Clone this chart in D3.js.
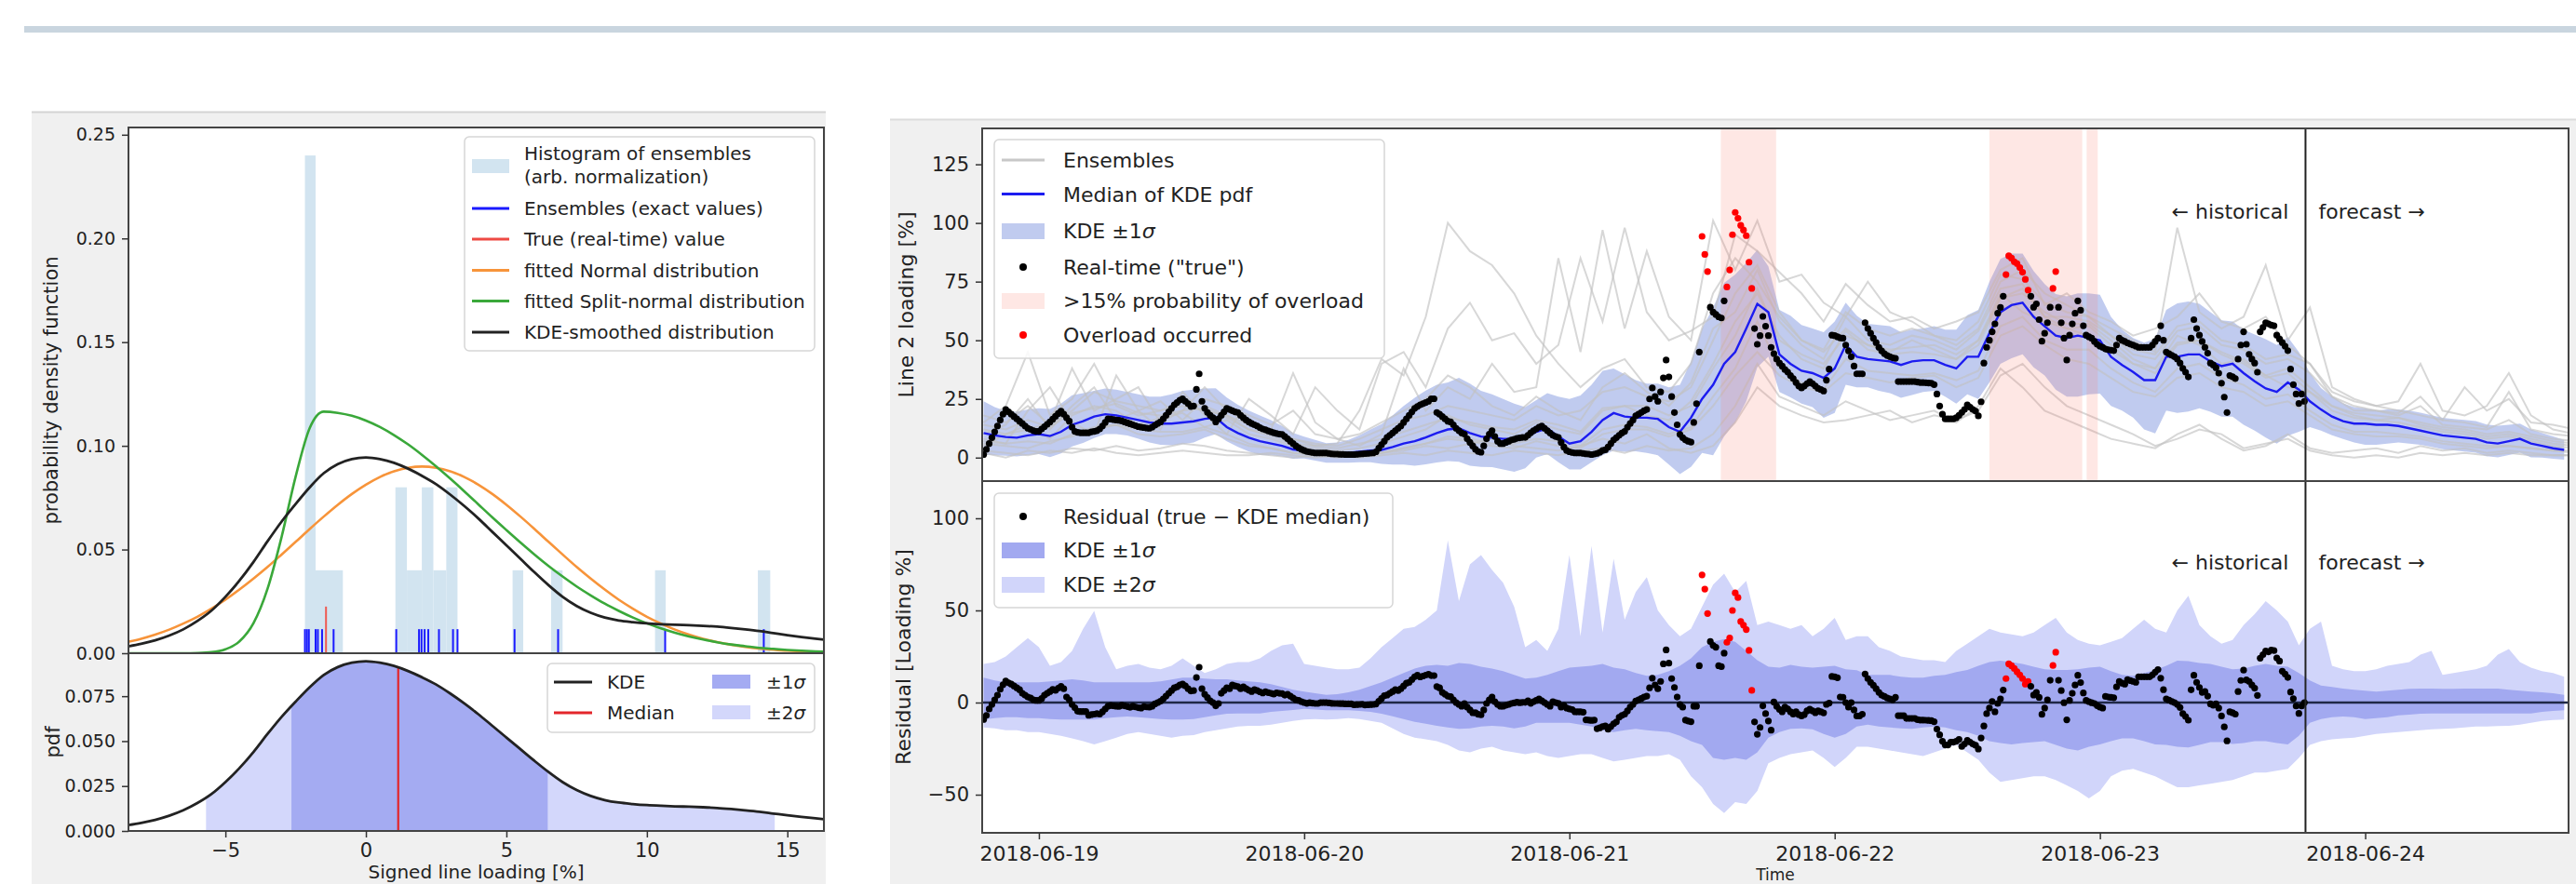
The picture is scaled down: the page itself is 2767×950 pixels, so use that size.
<!DOCTYPE html>
<html>
<head>
<meta charset="utf-8">
<script src="https://cdn.jsdelivr.net/npm/d3@7"></script>
<style>
  body { margin: 0; background: #fff; }
  svg { display: block; }
  text { font-family: "DejaVu Sans", sans-serif; fill: #222; }
</style>
</head>
<body>
<svg id="chart" width="2767" height="950"></svg>
<script>
// ---------- left figure: distribution of one time step ----------
const pdfX = [-8.5,-8,-7.5,-7,-6.5,-6,-5.5,-5,-4.5,-4,-3.5,-3,-2.5,-2,-1.5,-1,-0.5,0,0.5,1,1.5,2,2.5,3,3.5,4,4.5,5,5.5,6,6.5,7,7.5,8,8.5,9,9.5,10,10.5,11,11.5,12,12.5,13,13.5,14,14.5,15,15.5,16,16.5];
const normalPdf = [0.0054,0.0070,0.0090,0.0114,0.0143,0.0176,0.0215,0.0258,0.0307,0.0360,0.0416,0.0476,0.0537,0.0599,0.0659,0.0716,0.0768,0.0813,0.0850,0.0877,0.0894,0.0900,0.0894,0.0877,0.0850,0.0813,0.0768,0.0716,0.0659,0.0599,0.0537,0.0476,0.0416,0.0360,0.0307,0.0258,0.0215,0.0176,0.0143,0.0114,0.0090,0.0070,0.0054,0.0041,0.0031,0.0023,0.0017,0.0012,0.0009,0.0006,0.0004];
const splitPdf = [0,0,0,0,0,0.0001,0.0005,0.0019,0.0057,0.0145,0.0311,0.0561,0.0852,0.1086,0.1165,0.1159,0.1145,0.1122,0.1091,0.1052,0.1007,0.0956,0.0901,0.0842,0.0781,0.0718,0.0655,0.0594,0.0534,0.0476,0.0421,0.0370,0.0322,0.0279,0.0239,0.0204,0.0172,0.0144,0.0120,0.0099,0.0081,0.0066,0.0053,0.0042,0.0034,0.0026,0.0021,0.0016,0.0012,0.0009,0.0007];
const kdePdf = [0.0032,0.0045,0.0062,0.0085,0.0115,0.0155,0.0205,0.0272,0.0350,0.0440,0.0540,0.0635,0.0720,0.0800,0.0868,0.0912,0.0936,0.0944,0.0936,0.0918,0.0890,0.0855,0.0815,0.0765,0.0710,0.0650,0.0585,0.0520,0.0455,0.0390,0.0328,0.0272,0.0228,0.0195,0.0172,0.0158,0.0150,0.0144,0.0140,0.0137,0.0135,0.0132,0.0128,0.0122,0.0115,0.0107,0.0097,0.0087,0.0078,0.0070,0.0063];
const histLo  = [-2.17,-1.79,1.05,1.46,1.99,2.40,2.86,5.22,6.59,10.29,13.95];
const histHi  = [-1.79,-0.82,1.46,1.99,2.40,2.86,3.26,5.60,7.00,10.67,14.39];
const histVal = [0.24,0.04,0.08,0.04,0.08,0.04,0.08,0.04,0.04,0.04,0.04];
const ensembleValues = [-2.17,-2.10,-2.03,-1.79,-1.71,-1.56,-1.15,1.08,1.89,1.98,2.09,2.22,2.60,3.10,3.26,5.29,6.84,10.65,14.16];
const trueValue = -1.42;
const kdeMedianValue = 1.15;
const sigma1 = [-2.65, 6.47];
const sigma2 = [-5.69, 14.55];

// ---------- right figure: time series (hours from 2018-06-18 19:00 UTC) ----------
const seriesStart = Date.UTC(2018, 5, 18, 19, 0);
const axisStart = "2018-06-18 18:52", axisEnd = "2018-06-24 18:24";
const forecastStart = "2018-06-23 18:36";
const overloadSpans = [["2018-06-21 13:42","2018-06-21 18:42"],["2018-06-22 14:00","2018-06-22 22:24"],["2018-06-22 22:48","2018-06-22 23:48"]];
const overloadLimit = 70;

// real-time loading, every 15 minutes
const trueLoad = [
1.3,3.5,6,8.5, 11,13.5,16,18.5, 20.5,19.5,18.5,17.5, 16.5,15.5,14.5,13.5, 12.5,12,11.5,11.2,
11.2,12.2,13.2,14.2, 15.2,16.4,17.6,18.8, 19.8,18.5,17,15.5, 13,11.2,10.8,10.6, 10.6,10.6,10.6,11, 11.2,11.5,12.2,13.5,
15,16.5,16.4,16.2, 16,15.9,15.6,15.2, 14.8,14.4,14,13.6, 13.2,13,12.8,12.6, 12.5,13,13.8,14.5, 15.2,16.5,18,19.5,
21,22.5,23.5,24.5, 25.1,24,23,21.8, 22,29.1,35.7,24, 21,19.2,18,17, 15.2,16.5,18,19.5, 21,20.5,20,19.5,
19.2,18,17,16, 15.2,14.5,14,13.5, 12.8,12.2,11.9,11.4, 11,10.6,10.3,10, 9.9,9,8,7, 6,5,4.2,3.5,
3,2.6,2.4,2.2, 2,2,2,2, 2,1.8,1.6,1.5, 1.5,1.4,1.4,1.3, 1.3,1.3,1.3,1.4, 1.5,1.6,1.7,1.8,
1.9,2,2.5,4, 5.5,7,8.6,9.5, 10.5,11.5,12.5,13.5, 15,16.5,18,19.5, 21,21.8,22.5,23, 23.5,24,25.1,25.1,
19.2,18.5,17.5,16.5, 15.5,15.2,14,12.5, 11.5,10.5,10,8, 6.5,5,3.5,2.6, 2.3,5,8,10, 11.5,9,7,6,
6,6.5,7,7.5, 7.8,8.2,8.4,8.6, 8.6,9.5,10.6,11.5, 12.2,13,13.5,12.5, 11.5,10.5,9.5,9, 8.6,6.5,4.5,3,
2.5,2.2,2,2, 2,1.8,1.6,1.5, 1.3,1.5,1.8,2.3, 3,3.3,4.5,6, 7.5,8.5,9.5,10.5, 11.2,13,14.5,16,
17.8,18.5,19.2,20, 20.5,25,29.7,26, 24,28,34,41.6, 34.4,26,19.2,14, 9.9,8.5,7.5,7, 6.6,15,23,45,
94.3,86.6,79.3,64.1, 62,61,60,59.5, 66.8,72.7,80,95, 104.5,102,99,97, 94.6,83.3,72.1,55, 48.3,52,60.2,56,
52,47,44.3,42, 40.3,39,37.5,36.5, 35,33.7,32,30.5, 29.7,30.5,31.5,32.4, 31.5,30.5,29.5,29, 28.4,33,37.7,52.2,
52,51.5,51,50.9, 48,45.5,43,39, 35.7,35.7,35.7,57.5, 55,53,50.9,49, 47,45.5,44.3,43.5, 43,42.5,42.3,32.4,
32.4,32.4,32.4,32.4, 32.4,32.4,32.2,32, 32,31.9,31.8,31.7, 31.1,27.1,22,18.5, 16.5,16.5,16.5,16.5, 17,18,19.2,20.5,
22.5,21.5,20.5,19.8, 17.8,23.8,40.3,47, 50,53.6,57,61.5, 64,68.8,78,86, 85,83.5,82.7,81, 79,76,71.4,68.8,
64.1,65.5,58.8,49.6, 53,57.5,64.1,72.1, 79.3,64.1,57.5,50.9, 41.6,52.2,57,61.5, 66.8,62.8,56.2,52.2, 51.5,50.9,49.5,48.3,
47.5,47,46.3,46, 45.8,45.6,48,50.9, 50,49.5,48.9,48.4, 48,47.5,47,47, 47,47,47,48, 49.5,50.9,56.2,50,
45,44.3,43.6,43, 42,40.3,38,36.4, 34.4,50.9,58.8,55, 52.2,49.5,47,44.5, 40.3,39.5,38.3,36, 31.7,25.8,19.2,35,
34.5,33.7,42,48, 53.6,48.3,44,42, 40.3,36.4,53.6,55.5, 57.5,57,56.5,56.2, 52.2,50.5,49,47.5, 45.6,37.7,31.1,27.1,
23.1,27.1,24];

// median of the KDE pdf, hourly
const kdeMedian = [10.5,9.5,8.8,8.5,9.5,
10,9.2,11,14,15.5,17.5,18.5,18,17,16, 15,14.5,14.5,15,15.5,16.5,17,13,10.5,8.5,
7,6,5,3.5,3,2.5,2,2,2,2.5, 3,3.3,4.5,6,7,8.6,10.5,12,12.5,10.5,
9,8.5,8,8,8.5,11,12.5,9,6,7, 11,16,19,17.5,17,17,16.5,13,11,17,
25,31,40,45,55,65.5,62,44,40,37, 36,34,38,48,43,42,41.5,41,39.5,41,
41.5,41.5,39.5,38,43,43,53,62,65,66, 60,56,52,51,52,51,50,43,39.5,36.5,
33,33,43,43,44,44,41,39,40,36, 32.5,29.5,28,32,29,24,20.5,17.5,15.5,14.5,
14.5,14,14,13.5,12.5,11.5,10.5,9.5,9,8.5, 8,6.5,6,7,8,6,5,4,3.3];

// KDE spread around the median, hourly
const sig1Hi = [13.5,12,11,11,11,
11,11.5,12,12.6,12,11,11,11,11,11, 11,11.5,12.5,13.5,13.5,13,12.6,12.6,12,11.5,
11,10,8.5,7,5.9,5,4.2,4.5,5.5,7, 9,11,13.5,16,18.5,20,20.5,20,21.5,21,
19.5,18.5,17,15,13,13.5,15,17,19,19.5, 20,21,19,18,16,14.5,15,17,20,24,
30,33,34.5,33,28,23,19.5,19,20.5,19.5, 19,19.5,20,18,17.5,15,15,15,14,13.5,
13.5,14.5,15,16.5,17.7,20,22,22.7,22,21, 19.5,18,17.7,17.7,18,19,19.4,17,15,14.5,
16,17.7,20,22.7,22.5,21.5,21,19.5,18,18.5, 20,21,20,19.4,16,12,9.2,8.5,7.6,7,
6.5,6,6.5,7,7.5,7.6,7.6,7.5,7.5,7.6, 7.6,7.6,7.6,7,6.5,6,5.5,5,4.2];
const sig1Lo = [-9.2,-8.5,-8,-8,-8.4,
-8.5,-9,-9.2,-9.2,-9.2,-9.2,-8.5,-8,-7.6,-8, -8.5,-9,-9.2,-9.2,-9,-8,-7,-6,-5.9,-5.9,
-5.9,-5,-4.5,-4,-3.4,-3.8,-4.2,-4.2,-4.2,-4.5, -5,-6,-7.5,-9,-10.5,-11.5,-12.6,-13.5,-14.3,-14,
-13,-12.6,-13,-14,-13,-11,-11,-11,-11,-12, -13,-15,-16,-15,-14.3,-15,-15.5,-16,-18,-21,
-23,-30,-31,-30,-31,-27,-19,-16,-14.3,-14, -14.5,-17,-19,-17,-13,-12,-13,-13.5,-14,-14.3,
-13.5,-13,-13.5,-15,-16,-18,-21,-22,-22.7,-22, -21.5,-21,-23,-25,-26,-24,-22.7,-21,-19.5,-19.4,
-21,-22.7,-23,-24,-24.4,-23,-21.5,-21.5,-22.5,-22, -21,-21,-22,-22.7,-18,-11,-9,-8,-7.6,-8,
-9,-8.5,-8,-7,-6.5,-6,-5.9,-5.9,-5.9,-5.9, -5.9,-5.9,-5.9,-5.9,-5.9,-5.9,-5,-4.5,-4.2];
const sig2Hi = [21,22,25,30,35,
30,20,22,28,40,49.7,30,18,20,21, 19,18,20,24,20,16,18,21,22,22,
24,28,31,32,21,20,19,18,18,19, 24,30,35,40,41,45,50,88,55,75,
80,72,65,52,30,34,28,40,80,36, 85,38,78,45,60,68,50,42,36,40,
52,64,70,60,66,42,44,42,40,42, 36,40,46,34,36,36,30,28,25,24,
23,23,22,28,32,36,40,38,37,36, 38,42,46,38,34,32,31,33,35,40,
45,40,38,50,58,42,36,32,34,42, 48,55,50,44,31,40,44,20,18,17,
17,18,20,21,22,26,28,15,16,17, 18,20,26,29,22,19,17,16,14];
const sig2Lo = [-13.5,-14,-15,-15,-16,
-16,-17,-18,-19.4,-21,-22.7,-21,-19,-17,-16, -17,-18,-19,-18,-17.7,-16,-15,-14,-13,-12.6,
-12.6,-12,-11,-10,-9.2,-9,-9.2,-9,-8.4,-9, -10,-11,-14,-17,-19,-20,-21,-23,-26,-27,
-25,-24,-26,-27,-28,-27,-29,-30,-29,-28, -28,-30,-32,-31,-30,-29,-29,-28,-31,-40,
-46,-55,-60,-54,-55,-48,-33,-30,-28,-27, -26,-30,-35,-30,-24,-24,-25,-26,-27,-28,
-29,-27,-25,-23,-27,-31,-38,-43,-42,-41, -40,-40,-42,-45,-48,-52,-48,-40,-37,-36,
-38,-40,-43,-46,-46,-45,-44,-43,-42,-40, -38,-38,-37,-36,-30,-23,-21,-20,-19.4,-19,
-18,-17,-16.5,-16,-15.5,-15,-14.5,-14.3,-14,-13.5, -13,-13,-12.8,-12.6,-12,-11,-10,-9.5,-9.2];

// weather ensembles, every 2 hours
const ens1 = [15,22,45,18,25,40,22,18,20,24,22,18,12,10,8,5,6,20,42,35,60,100,88,82,70,52,40,30,38,42,30,28,40,70,85,75,60,50,45,55,48,45,50,46,42,50,70,62,58,55,52,46,40,38,52,48,40,42,35,30,28,22,18,16,17,14,12,11,9,10,8,6,5];
const ens2 = [5,10,12,15,38,20,25,30,15,20,30,20,15,12,36,15,8,5,10,38,20,30,25,40,28,30,85,45,97,55,88,60,50,101,80,101,75,78,66,60,75,62,58,52,48,55,75,80,70,65,60,55,50,45,98,62,55,60,82,50,64,30,25,22,24,40,20,18,22,36,18,12,10];
const ens3 = [8,6,20,30,15,10,35,20,12,28,18,10,25,18,10,30,20,12,40,45,30,55,66,50,53,40,48,85,58,98,62,50,54,60,95,88,79,70,58,74,65,58,60,55,58,62,80,85,65,70,62,58,52,55,60,70,58,55,60,48,40,28,24,22,20,18,16,30,20,25,15,14,12];
const ens4 = [2,0,3,2,4,3,5,3,4,6,5,3,2,1,0,1,0,1,2,3,5,4,6,8,5,4,3,5,8,6,10,4,2,5,15,30,22,18,15,16,18,20,15,18,16,20,35,40,30,22,18,14,10,5,8,12,10,4,6,8,3,1,0,1,0,2,1,2,1,2,1,1,1];
const ens5 = [12,10,14,8,18,22,20,14,17,19,13,16,10,8,5,4,3,4,6,9,12,18,14,12,10,15,12,10,20,22,18,16,24,40,58,70,52,42,38,54,46,44,45,44,42,48,68,72,60,55,56,48,40,36,48,50,44,40,34,36,28,20,17,16,15,13,11,10,8,9,7,5,4];
const ens6 = [6,5,4,7,9,12,14,10,9,10,12,8,5,4,2,1,1,1,2,4,6,8,7,5,4,7,5,4,10,12,12,9,12,22,35,45,35,30,28,36,34,32,34,35,30,34,52,56,48,42,40,34,28,26,34,36,30,28,22,24,18,12,10,9,9,8,6,5,4,5,4,3,3];
const ens7 = [18,15,22,14,20,28,24,22,20,22,20,18,14,12,8,6,5,8,12,16,18,22,20,18,16,22,18,20,28,30,26,24,30,50,70,82,62,50,46,62,55,52,55,52,50,58,78,76,66,62,60,52,46,44,56,58,50,48,42,44,40,26,22,20,19,26,16,15,13,28,12,10,9];
const ens8 = [3,2,1,3,2,4,2,1,2,3,2,1,1,2,1,0,1,0,1,2,1,3,2,1,3,2,1,3,4,2,5,3,4,10,22,40,26,22,18,24,20,16,18,20,15,22,38,30,20,16,12,8,6,4,10,14,8,3,5,10,4,2,3,4,2,5,3,4,2,3,2,1,1];
const ens9 = [14,12,16,13,19,21,23,19,18,20,21,17,12,9,6,5,4,6,8,11,14,17,15,13,12,16,14,11,21,22,22,18,22,38,52,72,50,44,40,52,48,46,47,48,44,50,68,70,62,57,57,50,42,38,49,50,45,41,35,38,30,22,19,18,17,15,13,12,10,11,9,7,6];
const ens10 = [7,6,7,6,10,13,14,12,11,11,13,10,6,4,2,1.5,1,1.5,2,4,6,9,8,6,6,8,7,5,12,14,13,10,13,26,38,58,38,32,29,42,37,36,35,36,33,37,56,60,50,46,46,38,32,28,38,40,34,31,25,27,20,14,11,11,10,9,7,6,5,5,4,3,2];
const ens11 = [10,14,25,12,22,30,16,20,24,16,25,22,18,14,20,10,8,10,15,20,25,35,30,22,18,26,20,16,30,36,28,22,32,55,62,80,58,48,42,60,50,48,52,50,46,54,72,74,60,60,58,52,44,42,54,56,48,46,40,42,36,26,20,20,18,22,14,13,12,16,10,8,7];
const ensembles = [ens1, ens2, ens3, ens4, ens5, ens6, ens7, ens8, ens9, ens10, ens11];

const leftXTicks = [-5, 0, 5, 10, 15];
const leftTopTicks = [0, 0.05, 0.10, 0.15, 0.20, 0.25];
const leftBottomTicks = [0, 0.025, 0.05, 0.075];
const loadTicks = [0, 25, 50, 75, 100, 125];
const residualTicks = [-50, 0, 50, 100];

// ---------------------------------------------------------------
const svg = d3.select("#chart");
const defs = svg.append("defs");
const parse = d3.utcParse("%Y-%m-%d %H:%M");
const HOUR = 3600e3;
const at = (i, step) => new Date(seriesStart + i * step * HOUR);

// page furniture
svg.append("rect").attr("x", 26).attr("y", 28).attr("width", 2741).attr("height", 7).attr("fill", "#c9d5df");
svg.append("rect").attr("x", 34).attr("y", 120).attr("width", 853).attr("height", 830).attr("fill", "#f0f0f0");
svg.append("rect").attr("x", 956).attr("y", 128).attr("width", 1811).attr("height", 822).attr("fill", "#f0f0f0");
svg.append("line").attr("x1", 34).attr("x2", 887).attr("y1", 120.5).attr("y2", 120.5).attr("stroke", "#d4d4d4").attr("stroke-width", 2);
svg.append("line").attr("x1", 956).attr("x2", 2767).attr("y1", 128.5).attr("y2", 128.5).attr("stroke", "#dcdcdc").attr("stroke-width", 2);

function panel(id, x0, x1, y0, y1) {
  svg.append("rect").attr("x", x0).attr("y", y0).attr("width", x1 - x0).attr("height", y1 - y0).attr("fill", "#fff");
  defs.append("clipPath").attr("id", id).append("rect")
    .attr("x", x0).attr("y", y0).attr("width", x1 - x0).attr("height", y1 - y0);
  return svg.append("g").attr("clip-path", "url(#" + id + ")");
}
function frame(x0, x1, y0, y1) {
  svg.append("rect").attr("x", x0).attr("y", y0).attr("width", x1 - x0).attr("height", y1 - y0)
    .attr("fill", "none").attr("stroke", "#444").attr("stroke-width", 2);
}
function styleAxis(g, size) {
  g.select(".domain").remove();
  g.attr("font-family", "DejaVu Sans, sans-serif").attr("font-size", size);
  g.selectAll("line").attr("stroke", "#333").attr("stroke-width", 1.5);
  g.selectAll("text").attr("fill", "#262626");
}
function label(x, y, s, size, rotate, anchor) {
  const t = svg.append("text").attr("font-size", size).attr("text-anchor", anchor || "middle").attr("fill", "#333");
  if (rotate) t.attr("transform", "translate(" + x + "," + y + ") rotate(-90)").attr("dy", "0.35em");
  else t.attr("x", x).attr("y", y);
  t.text(s);
  return t;
}
function sigmaLabel(g, x, y, prefix, size) {
  const t = g.append("text").attr("x", x).attr("y", y).attr("font-size", size);
  t.append("tspan").text(prefix);
  t.append("tspan").attr("font-style", "italic").text("σ");
}
function legendBox(x, y, w, h) {
  const g = svg.append("g");
  g.append("rect").attr("x", x).attr("y", y).attr("width", w).attr("height", h).attr("rx", 5)
    .attr("fill", "#fff").attr("fill-opacity", 0.85).attr("stroke", "#d6d6d6").attr("stroke-width", 1.5);
  return g;
}

// ================= LEFT FIGURE =================
const LX0 = 138, LX1 = 885, LT = 137, LM = 702, LB = 893;
const lx = d3.scaleLinear().domain([-8.45, 16.3]).range([LX0, LX1]);
const ly1 = d3.scaleLinear().domain([0, 0.2535]).range([LM, LT]);
const ly2 = d3.scaleLinear().domain([0, 0.0989]).range([LB, LM]);

const pTop = panel("clipLT", LX0, LX1, LT, LM);
pTop.selectAll("rect.hist").data(histVal).join("rect")
  .attr("x", (d, i) => lx(histLo[i])).attr("width", (d, i) => lx(histHi[i]) - lx(histLo[i]))
  .attr("y", d => ly1(d)).attr("height", d => ly1(0) - ly1(d)).attr("fill", "#d2e4f0");
const rugH = 0.0116;
pTop.selectAll("line.rug").data(ensembleValues).join("line")
  .attr("x1", d => lx(d)).attr("x2", d => lx(d)).attr("y1", ly1(0)).attr("y2", ly1(rugH))
  .attr("stroke", "#1a1aff").attr("stroke-width", 2);
pTop.append("line").attr("x1", lx(trueValue)).attr("x2", lx(trueValue)).attr("y1", ly1(0)).attr("y2", ly1(0.0225))
  .attr("stroke", "#ee5a52").attr("stroke-width", 2);
const pdfLine = ys => d3.line().x((d, i) => lx(pdfX[i])).y(d => ly1(d)).curve(d3.curveMonotoneX)(ys);
pTop.append("path").attr("d", pdfLine(normalPdf)).attr("fill", "none").attr("stroke", "#f7943a").attr("stroke-width", 2.6);
pTop.append("path").attr("d", pdfLine(splitPdf)).attr("fill", "none").attr("stroke", "#3aa83a").attr("stroke-width", 2.6);
pTop.append("path").attr("d", pdfLine(kdePdf)).attr("fill", "none").attr("stroke", "#222").attr("stroke-width", 2.8);

const pBot = panel("clipLB", LX0, LX1, LM, LB);
const kdeArea = d3.area().x((d, i) => lx(pdfX[i])).y0(ly2(0)).y1(d => ly2(d)).curve(d3.curveMonotoneX)(kdePdf);
[["clipS2", sigma2, "#d3d7fb"], ["clipS1", sigma1, "#a4abf2"]].forEach(([id, b, c]) => {
  defs.append("clipPath").attr("id", id).append("rect")
    .attr("x", lx(b[0])).attr("width", lx(b[1]) - lx(b[0])).attr("y", LM).attr("height", LB - LM);
  pBot.append("path").attr("d", kdeArea).attr("fill", c).attr("clip-path", "url(#" + id + ")");
});
defs.append("clipPath").attr("id", "clipUnder").append("path").attr("d", kdeArea);
pBot.append("line").attr("x1", lx(kdeMedianValue)).attr("x2", lx(kdeMedianValue)).attr("y1", LB).attr("y2", LM)
  .attr("stroke", "#e3262b").attr("stroke-width", 2.2).attr("clip-path", "url(#clipUnder)");
pBot.append("path").attr("d", d3.line().x((d, i) => lx(pdfX[i])).y(d => ly2(d)).curve(d3.curveMonotoneX)(kdePdf))
  .attr("fill", "none").attr("stroke", "#222").attr("stroke-width", 2.8);

frame(LX0, LX1, LT, LM);
frame(LX0, LX1, LM, LB);

styleAxis(svg.append("g").attr("transform", "translate(" + LX0 + ",0)")
  .call(d3.axisLeft(ly1).tickValues(leftTopTicks).tickFormat(d3.format(".2f")).tickSize(7).tickPadding(7)), 19);
styleAxis(svg.append("g").attr("transform", "translate(" + LX0 + ",0)")
  .call(d3.axisLeft(ly2).tickValues(leftBottomTicks).tickFormat(d3.format(".3f")).tickSize(7).tickPadding(7)), 19);
styleAxis(svg.append("g").attr("transform", "translate(0," + LB + ")")
  .call(d3.axisBottom(lx).tickValues(leftXTicks).tickFormat(d3.format("d")).tickSize(7).tickPadding(6)), 21);

label(55, (LT + LM) / 2, "probability density function", 21, true);
label(57, (LM + LB) / 2, "pdf", 21, true);
label((LX0 + LX1) / 2, 944, "Signed line loading [%]", 20);

// legends (left)
let lg = legendBox(499, 147, 376, 230);
lg.append("rect").attr("x", 507).attr("y", 171).attr("width", 40).attr("height", 15).attr("fill", "#d2e4f0");
lg.append("text").attr("x", 563).attr("y", 172).attr("font-size", 20).text("Histogram of ensembles");
lg.append("text").attr("x", 563).attr("y", 197).attr("font-size", 20).text("(arb. normalization)");
[["Ensembles (exact values)", "#1a1aff", 224], ["True (real-time) value", "#ee4a44", 257],
 ["fitted Normal distribution", "#f7943a", 290.5], ["fitted Split-normal distribution", "#3aa83a", 323.5],
 ["KDE-smoothed distribution", "#222", 357]].forEach(([s, c, y]) => {
  lg.append("line").attr("x1", 507).attr("x2", 547).attr("y1", y).attr("y2", y).attr("stroke", c).attr("stroke-width", 3);
  lg.append("text").attr("x", 563).attr("y", y + 7).attr("font-size", 20).text(s);
});
lg = legendBox(588, 713, 287, 74);
lg.append("line").attr("x1", 595).attr("x2", 636).attr("y1", 733).attr("y2", 733).attr("stroke", "#222").attr("stroke-width", 3);
lg.append("text").attr("x", 652).attr("y", 740).attr("font-size", 20).text("KDE");
lg.append("line").attr("x1", 595).attr("x2", 636).attr("y1", 766).attr("y2", 766).attr("stroke", "#e3262b").attr("stroke-width", 3);
lg.append("text").attr("x", 652).attr("y", 773).attr("font-size", 20).text("Median");
lg.append("rect").attr("x", 765).attr("y", 725).attr("width", 41).attr("height", 15).attr("fill", "#a4abf2");
sigmaLabel(lg, 823, 740, "±1", 20);
lg.append("rect").attr("x", 765).attr("y", 758).attr("width", 41).attr("height", 15).attr("fill", "#d3d7fb");
sigmaLabel(lg, 823, 773, "±2", 20);

// ================= RIGHT FIGURE =================
const RX0 = 1055, RX1 = 2759, RT = 138, RM = 517, RB = 895;
const rx = d3.scaleUtc().domain([parse(axisStart), parse(axisEnd)]).range([RX0, RX1]);
const ry1 = d3.scaleLinear().domain([-10, 140.3]).range([RM, RT]);
const ry2 = d3.scaleLinear().domain([-70.7, 120.2]).range([RB, RM]);

const upper = panel("clipRT", RX0, RX1, RT, RM);
upper.append("path")
  .attr("d", d3.area().x((d, i) => rx(at(i, 1))).y0((d, i) => ry1(d + sig1Lo[i])).y1((d, i) => ry1(d + sig1Hi[i]))(kdeMedian))
  .attr("fill", "#6a82d8").attr("fill-opacity", 0.42);
const ensLine = d3.line().x((d, i) => rx(at(i, 2))).y(d => ry1(d));
upper.selectAll("path.ens").data(ensembles).join("path").attr("class", "ens")
  .attr("d", d => ensLine(d)).attr("fill", "none").attr("stroke", "#c2c2c2").attr("stroke-width", 2).attr("stroke-opacity", 0.65);
upper.selectAll("rect.span").data(overloadSpans).join("rect")
  .attr("x", d => rx(parse(d[0]))).attr("width", d => rx(parse(d[1])) - rx(parse(d[0])))
  .attr("y", RT).attr("height", RM - RT).attr("fill", "#fa8072").attr("fill-opacity", 0.19);
upper.append("path").attr("d", d3.line().x((d, i) => rx(at(i, 1))).y(d => ry1(d))(kdeMedian))
  .attr("fill", "none").attr("stroke", "#1c1cf0").attr("stroke-width", 2.4);
upper.selectAll("circle").data(trueLoad).join("circle")
  .attr("cx", (d, i) => rx(at(i, 0.25))).attr("cy", d => ry1(d)).attr("r", 3.6)
  .attr("fill", d => d > overloadLimit ? "#ff0000" : "#000");

const lower = panel("clipRB", RX0, RX1, RM, RB);
lower.append("path")
  .attr("d", d3.area().x((d, i) => rx(at(i, 1))).y0(d => ry2(d)).y1((d, i) => ry2(sig2Hi[i]))(sig2Lo))
  .attr("fill", "#d1d5fa");
lower.append("path")
  .attr("d", d3.area().x((d, i) => rx(at(i, 1))).y0(d => ry2(d)).y1((d, i) => ry2(sig1Hi[i]))(sig1Lo))
  .attr("fill", "#a2a9f0");
lower.append("line").attr("x1", RX0).attr("x2", RX1).attr("y1", ry2(0)).attr("y2", ry2(0))
  .attr("stroke", "#1f2847").attr("stroke-width", 2.5);
const residual = trueLoad.map((d, i) => d - kdeMedian[Math.round(i / 4)]);
lower.selectAll("circle").data(residual).join("circle")
  .attr("cx", (d, i) => rx(at(i, 0.25))).attr("cy", d => ry2(d)).attr("r", 3.6)
  .attr("fill", (d, i) => trueLoad[i] > overloadLimit ? "#ff0000" : "#000");

const fx = rx(parse(forecastStart));
svg.append("line").attr("x1", fx).attr("x2", fx).attr("y1", RT).attr("y2", RB).attr("stroke", "#222").attr("stroke-width", 2);
frame(RX0, RX1, RT, RM);
frame(RX0, RX1, RM, RB);
[235, 612].forEach(y => {
  svg.append("text").attr("x", fx - 18).attr("y", y).attr("font-size", 22).attr("text-anchor", "end").text("← historical");
  svg.append("text").attr("x", fx + 14).attr("y", y).attr("font-size", 22).text("forecast →");
});

styleAxis(svg.append("g").attr("transform", "translate(" + RX0 + ",0)")
  .call(d3.axisLeft(ry1).tickValues(loadTicks).tickSize(7).tickPadding(7)), 21);
styleAxis(svg.append("g").attr("transform", "translate(" + RX0 + ",0)")
  .call(d3.axisLeft(ry2).tickValues(residualTicks).tickSize(7).tickPadding(7)), 21);
styleAxis(svg.append("g").attr("transform", "translate(0," + RB + ")")
  .call(d3.axisBottom(rx).ticks(d3.utcDay.every(1)).tickFormat(d3.utcFormat("%Y-%m-%d")).tickSize(7).tickPadding(7)), 22);

label(973, (RT + RM) / 2, "Line 2 loading [%]", 22, true);
label(970, (RM + RB) / 2, "Residual [Loading %]", 22, true);
label((RX0 + RX1) / 2, 946, "Time", 17);

// legends (right)
lg = legendBox(1068, 150, 419, 235);
lg.append("line").attr("x1", 1076).attr("x2", 1122).attr("y1", 172).attr("y2", 172).attr("stroke", "#c8c8c8").attr("stroke-width", 3);
lg.append("text").attr("x", 1142).attr("y", 180).attr("font-size", 22).text("Ensembles");
lg.append("line").attr("x1", 1076).attr("x2", 1122).attr("y1", 208.5).attr("y2", 208.5).attr("stroke", "#1c1cf0").attr("stroke-width", 3);
lg.append("text").attr("x", 1142).attr("y", 216.5).attr("font-size", 22).text("Median of KDE pdf");
lg.append("rect").attr("x", 1076).attr("y", 240).attr("width", 46).attr("height", 17).attr("fill", "#6a82d8").attr("fill-opacity", 0.42);
sigmaLabel(lg, 1142, 256, "KDE ±1", 22);
lg.append("circle").attr("cx", 1099).attr("cy", 287).attr("r", 4).attr("fill", "#000");
lg.append("text").attr("x", 1142).attr("y", 295).attr("font-size", 22).text("Real-time (\"true\")");
lg.append("rect").attr("x", 1076).attr("y", 315).attr("width", 46).attr("height", 17).attr("fill", "#fa8072").attr("fill-opacity", 0.19);
lg.append("text").attr("x", 1142).attr("y", 331).attr("font-size", 22).text(">15% probability of overload");
lg.append("circle").attr("cx", 1099).attr("cy", 360).attr("r", 4).attr("fill", "#ff0000");
lg.append("text").attr("x", 1142).attr("y", 368).attr("font-size", 22).text("Overload occurred");

lg = legendBox(1068, 530, 428, 123);
lg.append("circle").attr("cx", 1099).attr("cy", 555).attr("r", 4).attr("fill", "#000");
lg.append("text").attr("x", 1142).attr("y", 563).attr("font-size", 22).text("Residual (true − KDE median)");
lg.append("rect").attr("x", 1076).attr("y", 583).attr("width", 46).attr("height", 17).attr("fill", "#a2a9f0");
sigmaLabel(lg, 1142, 599, "KDE ±1", 22);
lg.append("rect").attr("x", 1076).attr("y", 620).attr("width", 46).attr("height", 17).attr("fill", "#d1d5fa");
sigmaLabel(lg, 1142, 636, "KDE ±2", 22);
</script>
</body>
</html>
